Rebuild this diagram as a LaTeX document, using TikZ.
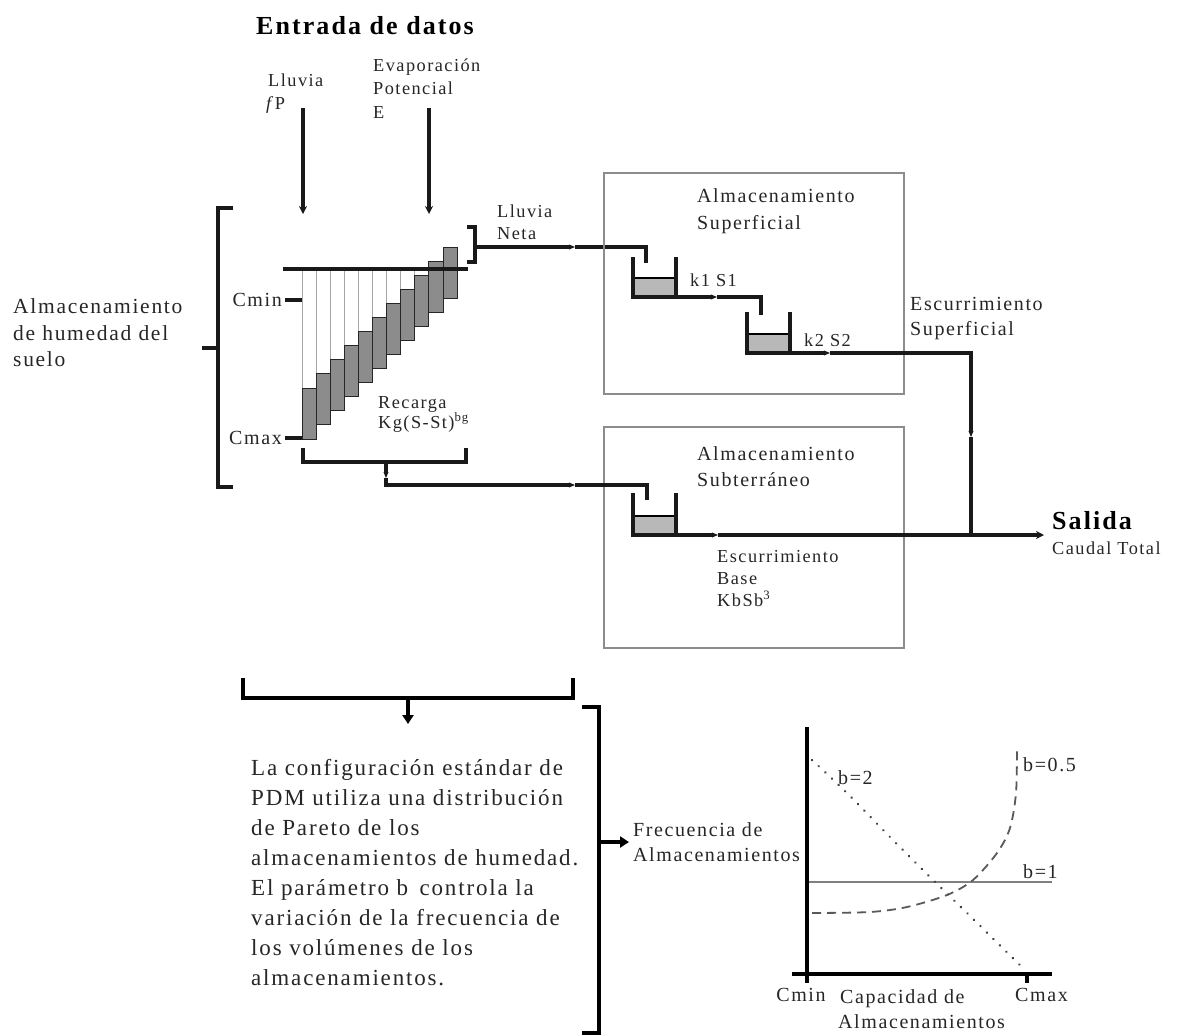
\documentclass[tikz,border=0pt]{standalone}
\usepackage{fontspec}
\setmainfont{Liberation Serif}[LetterSpace=8]
\usetikzlibrary{arrows.meta}
\begin{document}
\begin{tikzpicture}[x=1pt,y=-1pt,
  txt/.style={anchor=base west, inner sep=0pt, text=black!85},
  sz/.style={txt, font=\fontsize{18.3}{21}\selectfont},
  md/.style={txt, font=\fontsize{20}{24}\selectfont},
  par/.style={txt, font=\fontsize{23}{27}\selectfont},
  hd/.style={txt, font=\fontsize{26}{30}\selectfont\bfseries, text=black},
  pipe/.style={line width=3.2pt, line join=miter, draw=black!90},
  brk/.style={line width=3.6pt, draw=black!90},
  tickarrow/.style={-{Stealth[length=6pt,width=5pt]}},
  frame/.style={draw=black!45, line width=1.6pt},
  gbar/.style={fill=black!45, draw=black!85, line width=1pt},
  gcol/.style={draw=black!35, line width=0.9pt},
  water/.style={fill=black!28},
  bigtip/.style={-{Triangle[length=9pt,width=11pt]}}]
\path[use as bounding box, fill=white] (0,0) rectangle (1180,1034);

% ---------- title and inputs ----------
\node[hd, anchor=base] (title) at (365,34) {Entrada de datos};
\node[sz] (ll1) at (268,86) {Lluvia};
\node[sz] (ll2) at (266,109) {\textit{f}P};
\node[sz] (ev1) at (373,71) {Evaporación};
\node[sz] (ev2) at (373,94) {Potencial};
\node[sz] (ev3) at (373,118) {E};
\coordinate (pA) at (303,108); \coordinate (pB) at (303,214);
\coordinate (eA) at (429,108); \coordinate (eB) at (429,214);
\draw[pipe, -{Stealth[length=8pt,width=8pt]}] (pA) -- (pB);
\draw[pipe, -{Stealth[length=8pt,width=8pt]}] (eA) -- (eB);

% ---------- soil moisture store ----------
\node[md, font=\fontsize{21.5}{24}\selectfont] (al1) at (13,313) {Almacenamiento};
\node[md, font=\fontsize{21.5}{24}\selectfont] (al2) at (13,340) {de humedad del};
\node[md, font=\fontsize{21.5}{24}\selectfont] (al3) at (13,366) {suelo};
\coordinate (lbT) at (233,208); \coordinate (lbB) at (233,487);
\draw[brk] (lbT) -- (218,208) -- (218,487) -- (lbB);
\draw[brk] (202,348) -- (218,348);

\node[md, anchor=base east] (cmin) at (282,306) {Cmin};
\node[md, anchor=base east] (cmax) at (282,444) {Cmax};
\draw[pipe] (285,300) -- (302,300);
\draw[pipe] (285,438) -- (302,438);

\foreach \i in {0,...,10}{
  \pgfmathsetmacro\xl{302+14.1*\i}
  \pgfmathsetmacro\xr{316.1+14.1*\i}
  \pgfmathsetmacro\tp{388-14.1*\i}
  \pgfmathsetmacro\bt{439-14.1*\i}
  \ifnum\i<9 \draw[gcol] (\xl,269) rectangle (\xr,\tp); \fi
  \draw[gbar] (\xl,\tp) rectangle (\xr,\bt);
}
\draw[pipe] (283,269) -- (468,269);

\node[sz] (rc1) at (378,408) {Recarga};
\node[sz] (rc2) at (378,428) {Kg(S-St)\textsuperscript{bg}};
\draw[brk] (303,448) -- (303,462) -- (466,462) -- (466,448);

% ---------- net rainfall ----------
\draw[brk] (467,227) -- (475,227) -- (475,262) -- (467,262);
\node[sz] (ln1) at (497,217) {Lluvia};
\node[sz] (ln2) at (497,239) {Neta};
\coordinate (n0) at (475,247); \coordinate (n1) at (575,247);
\coordinate (n2) at (646,247); \coordinate (n3) at (646,263);
\draw[pipe, tickarrow] (n0) -- (n1);
\draw[pipe] (n1) -- (n2) -- (n3);

% ---------- surface storage ----------
\draw[frame] (604,173) rectangle (904,394);
\node[md] (as1) at (697,202) {Almacenamiento};
\node[md] (as2) at (697,229) {Superficial};

\fill[water] (633,278) rectangle (676,297);
\draw[line width=1.3pt] (633,278) -- (676,278);
\draw[pipe] (633,257) -- (633,297) -- (676,297) -- (676,257);
\coordinate (t1o) at (676,297); \coordinate (t1k) at (717,297);
\coordinate (t1a) at (761,297); \coordinate (t1b) at (761,315);
\draw[pipe, tickarrow] (t1o) -- (t1k);
\draw[pipe] (t1k) -- (t1a) -- (t1b);
\node[sz] (k1) at (690,286) {k1 S1};

\fill[water] (747,334) rectangle (790,353);
\draw[line width=1.3pt] (747,334) -- (790,334);
\draw[pipe] (747,312) -- (747,353) -- (790,353) -- (790,312);
\node[sz] (k2) at (804,346) {k2 S2};
\coordinate (t2o) at (790,353); \coordinate (t2k) at (830,353);
\coordinate (t2c) at (971,353); \coordinate (t2d) at (971,437);
\coordinate (jn) at (971,535);
\draw[pipe, tickarrow] (t2o) -- (t2k);
\draw[pipe, tickarrow] (t2k) -- (t2c) -- (t2d);
\draw[pipe] (t2d) -- (jn);
\node[md] (es1) at (910,310) {Escurrimiento};
\node[md] (es2) at (910,335) {Superficial};

% ---------- groundwater storage ----------
\draw[frame] (604,427) rectangle (904,648);
\node[md] (ag1) at (697,460) {Almacenamiento};
\node[md] (ag2) at (697,486) {Subterráneo};
\coordinate (r0) at (386,462); \coordinate (r1) at (386,478);
\coordinate (r2) at (386,485); \coordinate (r3) at (575,485);
\coordinate (r4) at (647,485); \coordinate (r5) at (647,500);
\draw[pipe, tickarrow] (r0) -- (r1);
\draw[pipe, tickarrow] (r1) -- (r2) -- (r3);
\draw[pipe] (r3) -- (r4) -- (r5);

\fill[water] (633,516) rectangle (676,535);
\draw[line width=1.3pt] (633,516) -- (676,516);
\draw[pipe] (633,493) -- (633,535) -- (676,535) -- (676,493);
\coordinate (t3o) at (676,535); \coordinate (t3k) at (718,535);
\coordinate (out) at (1044,535);
\draw[pipe, tickarrow] (t3o) -- (t3k);
\draw[pipe, -{Stealth[length=8pt,width=8pt]}] (t3k) -- (out);
\node[sz] (eb1) at (717,562) {Escurrimiento};
\node[sz] (eb2) at (717,584) {Base};
\node[sz] (eb3) at (717,606) {KbSb\textsuperscript{3}};

\node[hd] (sal) at (1052,529) {Salida};
\node[sz] (ct) at (1052,554) {Caudal Total};

% ---------- explanation ----------
\draw[line width=4pt] (243,678) -- (243,698) -- (573,698) -- (573,678);
\coordinate (s0) at (408,698); \coordinate (s1) at (408,724);
\draw[line width=3.2pt, bigtip] (s0) -- (s1);

\node[par] (p1) at (251,775) {La configuración estándar de};
\node[par] (p2) at (251,805) {PDM utiliza una distribución};
\node[par] (p3) at (251,835) {de Pareto de los};
\node[par] (p4) at (251,865) {almacenamientos de humedad.};
\node[par] (p5) at (251,895) {El parámetro b\, controla la};
\node[par] (p6) at (251,925) {variación de la frecuencia de};
\node[par] (p7) at (251,955) {los volúmenes de los};
\node[par] (p8) at (251,985) {almacenamientos.};

\draw[line width=3.4pt] (582,707) -- (599,707) -- (599,1033) -- (582,1033);
\coordinate (q0) at (599,842); \coordinate (q1) at (629,842);
\draw[line width=3.2pt, bigtip] (q0) -- (q1);

% ---------- Pareto graph ----------
\node[md] (fr1) at (633,836) {Frecuencia de};
\node[md] (fr2) at (633,861) {Almacenamientos};
\coordinate (yT) at (807,727); \coordinate (yB) at (807,983);
\coordinate (xL) at (792,974); \coordinate (xR) at (1052,974);
\draw[line width=1.3pt, black!50] (807,882) -- (1052,882);
\draw[line width=2.6pt, black!75, line cap=round, dash pattern=on 0.1pt off 9pt]
  plot[smooth] coordinates {(812,760) (847,793) (890,837) (933,880) (967,913) (1025,970)};
\draw[line width=1.8pt, black!65, dash pattern=on 9pt off 6pt]
  plot[smooth] coordinates {(812,913) (870,912) (907,907) (947,895) (973,880) (997,853) (1010,828) (1016,793) (1017,748)};
\draw[line width=3.4pt] (yT) -- (yB);
\draw[line width=3.4pt] (xL) -- (xR);
\draw[line width=3.4pt] (1027,974) -- (1027,983);
\node[md] (b2) at (838,784) {b=2};
\node[md] (b05) at (1023,771) {b=0.5};
\node[md] (b1) at (1023,878) {b=1};
\node[md, anchor=base] (gmin) at (801,1001) {Cmin};
\node[md] (cap1) at (840,1003) {Capacidad de};
\node[md] (cap2) at (838,1028) {Almacenamientos};
\node[md] (gmax) at (1015,1001) {Cmax};
\end{tikzpicture}
\end{document}
